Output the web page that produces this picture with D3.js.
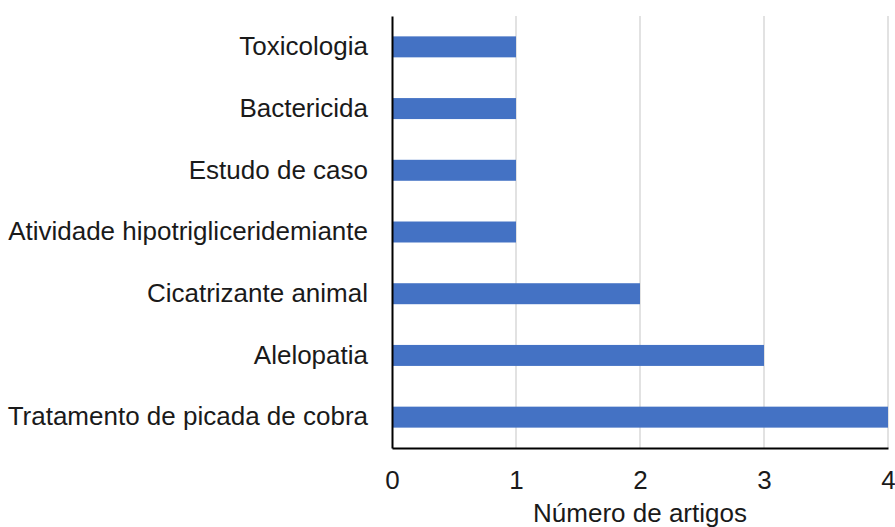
<!DOCTYPE html>
<html>
<head>
<meta charset="utf-8">
<script src="https://cdn.jsdelivr.net/npm/d3@7"></script>
<style>
  body { margin: 0; background: #fff; }
  text { font-family: "Liberation Sans", Arial, sans-serif; fill: #1a1a1a; }
</style>
</head>
<body>
<div id="chart"></div>
<script>
var categories = [
  "Toxicologia",
  "Bactericida",
  "Estudo de caso",
  "Atividade hipotrigliceridemiante",
  "Cicatrizante animal",
  "Alelopatia",
  "Tratamento de picada de cobra"
];
var counts = [1, 1, 1, 1, 2, 3, 4];
var xTicks = [0, 1, 2, 3, 4];

var width = 895;
var height = 527;
var plotLeft = 392, plotRight = 888, plotTop = 16, plotBottom = 448;
var fontSize = "26px";

var svg = d3.select("#chart")
  .append("svg")
  .attr("width", width)
  .attr("height", height);

var x = d3.scaleLinear().domain([0, 4]).range([plotLeft, plotRight]);
var y = d3.scaleBand()
  .domain(categories)
  .range([plotTop, plotBottom])
  .paddingInner(0.66)
  .paddingOuter(0.33);

/* gridlines */
svg.append("g")
  .selectAll("line")
  .data(xTicks.filter(d => d > 0))
  .enter()
  .append("line")
  .attr("x1", d => x(d))
  .attr("x2", d => x(d))
  .attr("y1", plotTop)
  .attr("y2", plotBottom)
  .attr("stroke", "#d9d9d9")
  .attr("stroke-width", 1.5);

/* bars */
svg.append("g")
  .selectAll("rect")
  .data(counts)
  .enter()
  .append("rect")
  .attr("x", x(0))
  .attr("y", (d, i) => y(categories[i]))
  .attr("width", d => x(d) - x(0))
  .attr("height", y.bandwidth())
  .attr("fill", "#4472c4");

/* axes */
var xAxis = d3.axisBottom(x).tickValues(xTicks).tickFormat(d3.format("d")).tickSize(0).tickPadding(23);
var gx = svg.append("g")
  .attr("transform", `translate(0, ${plotBottom})`)
  .call(xAxis);
gx.select(".domain").attr("stroke", "#000").attr("stroke-width", 2);
gx.selectAll("text").style("font-size", fontSize).attr("fill", "#1a1a1a");

var yAxis = d3.axisLeft(y).tickSize(0).tickPadding(24);
var gy = svg.append("g")
  .attr("transform", `translate(${plotLeft}, 0)`)
  .call(yAxis);
gy.select(".domain").attr("stroke", "#000").attr("stroke-width", 2);
gy.selectAll("text").style("font-size", fontSize).attr("fill", "#1a1a1a");

svg.append("text")
  .attr("x", x(2))
  .attr("y", 522)
  .attr("text-anchor", "middle")
  .style("font-size", fontSize)
  .text("Número de artigos");
</script>
</body>
</html>
